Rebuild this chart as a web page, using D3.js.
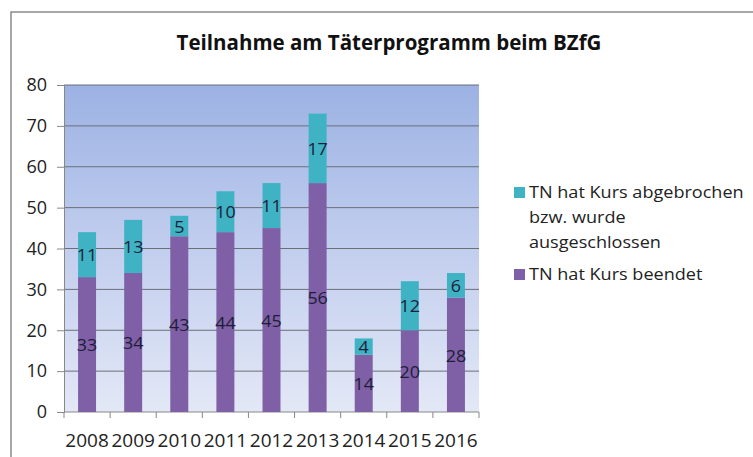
<!DOCTYPE html>
<html>
<head>
<meta charset="utf-8">
<script src="https://cdn.jsdelivr.net/npm/d3@7"></script>
<style>
  body { margin: 0; background: #fff; }
  text { font-family: "Open Sans", "Noto Sans", sans-serif; }
</style>
</head>
<body>
<script>
(function() {

  // Chart data
  var years = ['2008', '2009', '2010', '2011', '2012', '2013', '2014', '2015', '2016'];
  var finished = [33, 34, 43, 44, 45, 56, 14, 20, 28];
  var dropped = [11, 13, 5, 10, 11, 17, 4, 12, 6];
  var yTicks = [0, 10, 20, 30, 40, 50, 60, 70, 80];
  var seriesNames = ['TN hat Kurs abgebrochen bzw. wurde ausgeschlossen', 'TN hat Kurs beendet'];

  var width = 753, height = 457;
  var colors = { finished: '#7f5fa5', dropped: '#3fb3c4' };

  var svg = d3.select('body').append('svg')
    .attr('width', width)
    .attr('height', height);

  // Position a text at (x, y) and squeeze/stretch it horizontally by sx
  function place(sel, fx, fy, sx) {
    sel.attr('x', 0).attr('y', 0)
      .attr('transform', function(d, i) {
        return 'translate(' + fx(d, i) + ',' + fy(d, i) + ') scale(' + sx + ',1)';
      });
  }

  // Outer chart border
  svg.append('rect')
    .attr('x', 11).attr('y', 12)
    .attr('width', width + 10).attr('height', height + 10)
    .attr('fill', '#fff')
    .attr('stroke', '#8a8a8a')
    .attr('stroke-width', 1.5);

  var plot = { left: 64, right: 479, top: 85, bottom: 412 };

  var x = d3.scaleBand()
    .domain(years)
    .range([plot.left, plot.right])
    .paddingInner(0.61)
    .paddingOuter(0.305);

  var y = d3.scaleLinear()
    .domain([0, 80])
    .range([plot.bottom, plot.top]);

  // Plot area gradient
  var defs = svg.append('defs');
  var grad = defs.append('linearGradient')
    .attr('id', 'bg').attr('x1', 0).attr('y1', 0).attr('x2', 0).attr('y2', 1);
  grad.append('stop').attr('offset', '0%').attr('stop-color', '#9cb2e3');
  grad.append('stop').attr('offset', '50%').attr('stop-color', '#c2ceee');
  grad.append('stop').attr('offset', '100%').attr('stop-color', '#e3e8f6');

  svg.append('rect')
    .attr('x', plot.left).attr('y', plot.top)
    .attr('width', plot.right - plot.left).attr('height', plot.bottom - plot.top)
    .attr('fill', 'url(#bg)');

  // Gridlines
  svg.append('g')
    .selectAll('line')
    .data(yTicks.filter(function(d) { return d > 0; }))
    .enter().append('line')
    .attr('x1', plot.left).attr('x2', plot.right)
    .attr('y1', function(d) { return y(d); })
    .attr('y2', function(d) { return y(d); })
    .attr('stroke', '#6b6f78')
    .attr('stroke-width', 1);

  // Y axis
  var yAxis = svg.append('g')
    .attr('transform', 'translate(' + plot.left + ',0)')
    .call(d3.axisLeft(y).tickValues(yTicks).tickSize(7).tickPadding(10));
  yAxis.select('.domain').attr('stroke', '#888');
  yAxis.selectAll('.tick line').attr('stroke', '#888');
  yAxis.selectAll('text')
    .attr('font-size', 18)
    .attr('fill', '#222')
    .style('font-family', '"Open Sans", sans-serif');

  // X axis
  var boundaries = years.map(function(d, i) { return plot.left + i * x.step(); }).concat([plot.right]);
  var xAxis = svg.append('g')
    .attr('transform', 'translate(0,' + plot.bottom + ')');
  xAxis.append('line')
    .attr('x1', plot.left).attr('x2', plot.right)
    .attr('stroke', '#888');
  xAxis.selectAll('.tk')
    .data(boundaries)
    .enter().append('line')
    .attr('x1', function(d) { return d; }).attr('x2', function(d) { return d; })
    .attr('y1', 0).attr('y2', 6)
    .attr('stroke', '#888');
  xAxis.selectAll('text')
    .data(years)
    .enter().append('text')
    .attr('text-anchor', 'middle')
    .attr('font-size', 19)
    .attr('fill', '#222')
    .text(function(d) { return d; })
    .call(place, function(d) { return x(d) + x.bandwidth() / 2; }, function() { return 35; }, 1);

  // Stacked bars
  var rows = years.map(function(yr, i) {
    return { year: yr, finished: finished[i], dropped: dropped[i] };
  });
  var stack = d3.stack().keys(['finished', 'dropped'])(rows);

  var layers = svg.append('g').selectAll('g')
    .data(stack)
    .enter().append('g')
    .attr('fill', function(d) { return colors[d.key]; });

  layers.selectAll('rect')
    .data(function(d) { return d; })
    .enter().append('rect')
    .attr('x', function(d) { return x(d.data.year); })
    .attr('y', function(d) { return y(d[1]); })
    .attr('width', x.bandwidth())
    .attr('height', function(d) { return y(d[0]) - y(d[1]); });

  layers.selectAll('text')
    .data(function(d) { return d; })
    .enter().append('text')
    .attr('dy', '0.36em')
    .attr('text-anchor', 'middle')
    .attr('font-size', 16)
    .attr('fill', '#1d1d3a')
    .text(function(d) { return d[1] - d[0]; })
    .call(place,
      function(d) { return x(d.data.year) + x.bandwidth() / 2; },
      function(d) { return y((d[0] + d[1]) / 2) + 1; }, 1.12);

  // Title
  svg.append('text')
    .attr('text-anchor', 'middle')
    .attr('font-size', 20.5)
    .attr('font-weight', 'bold')
    .attr('fill', '#111')
    .text('Teilnahme am Täterprogramm beim BZfG')
    .call(place, function() { return 389; }, function() { return 50; }, 1);

  // Legend
  var legend = [
    { lines: ['TN hat Kurs abgebrochen', 'bzw. wurde', 'ausgeschlossen'], color: colors.dropped, y: 198, name: seriesNames[0] },
    { lines: ['TN hat Kurs beendet'], color: colors.finished, y: 280, name: seriesNames[1] }
  ];
  var lg = svg.append('g').selectAll('g')
    .data(legend)
    .enter().append('g')
    .attr('transform', function(d) { return 'translate(514,' + d.y + ')'; });
  lg.append('rect')
    .attr('x', 0).attr('y', -11)
    .attr('width', 11).attr('height', 11)
    .attr('fill', function(d) { return d.color; });
  lg.append('text')
    .attr('font-size', 16)
    .attr('fill', '#222')
    .attr('transform', 'translate(15,0) scale(1.13,1)')
    .selectAll('tspan')
    .data(function(d) { return d.lines; })
    .enter().append('tspan')
    .attr('x', 0)
    .attr('dy', function(d, i) { return i === 0 ? 0 : 25; })
    .text(function(d) { return d; });
})();
</script>
</body>
</html>
